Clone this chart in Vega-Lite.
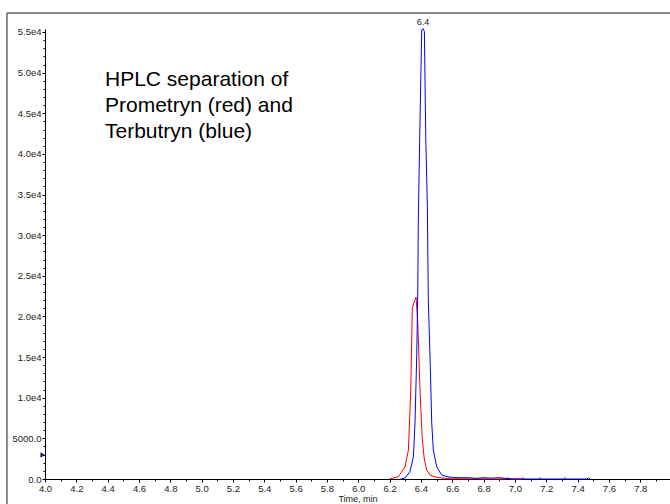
{
  "$schema": "https://vega.github.io/schema/vega-lite/v6.json",
  "width": 625,
  "height": 450,
  "autosize": {"type": "none"},
  "padding": {"left": 45, "right": 0, "top": 29, "bottom": 25},
  "background": "white",
  "config": {
    "view": {"stroke": null},
    "font": "Liberation Sans",
    "axis": {
      "domainColor": "#000000",
      "domainWidth": 1,
      "tickColor": "#000000",
      "tickWidth": 1,
      "labelColor": "#222222",
      "labelFont": "Liberation Sans",
      "labelFontSize": 9.5,
      "labelOverlap": false,
      "labelFlush": false,
      "grid": false,
      "zindex": 1,
      "tickCount": 500
    }
  },
  "datasets": {
    "chrom": [
      {"t": 6.20, "v": 0, "s": "Prometryn"},
      {"t": 6.256, "v": 280, "s": "Prometryn"},
      {"t": 6.298, "v": 1500, "s": "Prometryn"},
      {"t": 6.320, "v": 3570, "s": "Prometryn"},
      {"t": 6.335, "v": 10960, "s": "Prometryn"},
      {"t": 6.345, "v": 21000, "s": "Prometryn"},
      {"t": 6.355, "v": 21700, "s": "Prometryn"},
      {"t": 6.362, "v": 22050, "s": "Prometryn"},
      {"t": 6.369, "v": 22380, "s": "Prometryn"},
      {"t": 6.380, "v": 19170, "s": "Prometryn"},
      {"t": 6.394, "v": 10960, "s": "Prometryn"},
      {"t": 6.409, "v": 4800, "s": "Prometryn"},
      {"t": 6.422, "v": 2340, "s": "Prometryn"},
      {"t": 6.437, "v": 1100, "s": "Prometryn"},
      {"t": 6.458, "v": 490, "s": "Prometryn"},
      {"t": 6.50, "v": 200, "s": "Prometryn"},
      {"t": 6.55, "v": 80, "s": "Prometryn"},
      {"t": 6.60, "v": 30, "s": "Prometryn"},
      {"t": 6.94, "v": 0, "s": "Prometryn"},
      {"t": 6.955, "v": 150, "s": "Prometryn"},
      {"t": 6.97, "v": 0, "s": "Prometryn"},
      {"t": 7.04, "v": 0, "s": "Prometryn"},
      {"t": 7.05, "v": 150, "s": "Prometryn"},
      {"t": 7.06, "v": 0, "s": "Prometryn"},
      {"t": 6.27, "v": 0, "s": "Terbutryn"},
      {"t": 6.298, "v": 120, "s": "Terbutryn"},
      {"t": 6.330, "v": 900, "s": "Terbutryn"},
      {"t": 6.352, "v": 2750, "s": "Terbutryn"},
      {"t": 6.362, "v": 6900, "s": "Terbutryn"},
      {"t": 6.373, "v": 15060, "s": "Terbutryn"},
      {"t": 6.380, "v": 23270, "s": "Terbutryn"},
      {"t": 6.383, "v": 31530, "s": "Terbutryn"},
      {"t": 6.392, "v": 41750, "s": "Terbutryn"},
      {"t": 6.405, "v": 55290, "s": "Terbutryn"},
      {"t": 6.413, "v": 55420, "s": "Terbutryn"},
      {"t": 6.422, "v": 55050, "s": "Terbutryn"},
      {"t": 6.431, "v": 41750, "s": "Terbutryn"},
      {"t": 6.441, "v": 33500, "s": "Terbutryn"},
      {"t": 6.447, "v": 22040, "s": "Terbutryn"},
      {"t": 6.458, "v": 15020, "s": "Terbutryn"},
      {"t": 6.469, "v": 6900, "s": "Terbutryn"},
      {"t": 6.479, "v": 3570, "s": "Terbutryn"},
      {"t": 6.501, "v": 1480, "s": "Terbutryn"},
      {"t": 6.533, "v": 490, "s": "Terbutryn"},
      {"t": 6.56, "v": 300, "s": "Terbutryn"},
      {"t": 6.60, "v": 200, "s": "Terbutryn"},
      {"t": 6.65, "v": 150, "s": "Terbutryn"},
      {"t": 6.70, "v": 160, "s": "Terbutryn"},
      {"t": 6.75, "v": 80, "s": "Terbutryn"},
      {"t": 6.80, "v": 160, "s": "Terbutryn"},
      {"t": 6.85, "v": 100, "s": "Terbutryn"},
      {"t": 6.90, "v": 160, "s": "Terbutryn"},
      {"t": 6.95, "v": 60, "s": "Terbutryn"},
      {"t": 7.00, "v": 0, "s": "Terbutryn"},
      {"t": 7.15, "v": 0, "s": "Terbutryn"},
      {"t": 7.16, "v": 160, "s": "Terbutryn"},
      {"t": 7.17, "v": 0, "s": "Terbutryn"},
      {"t": 7.31, "v": 0, "s": "Terbutryn"},
      {"t": 7.32, "v": 160, "s": "Terbutryn"},
      {"t": 7.33, "v": 0, "s": "Terbutryn"},
      {"t": 7.46, "v": 0, "s": "Terbutryn"},
      {"t": 7.47, "v": 160, "s": "Terbutryn"},
      {"t": 7.48, "v": 0, "s": "Terbutryn"}
    ]
  },
  "layer": [
    {
      "data": {"values": [
        {"t": 3.757, "v": -3500, "t2": 3.757, "v2": 57340},
        {"t": 3.757, "v": 57340, "t2": 8.05, "v2": 57340}
      ]},
      "mark": {"type": "rule", "color": "#666666", "strokeWidth": 1.5, "clip": false},
      "encoding": {
        "x": {"field": "t", "type": "quantitative"},
        "x2": {"field": "t2"},
        "y": {"field": "v", "type": "quantitative"},
        "y2": {"field": "v2"}
      }
    },
    {
      "data": {"name": "chrom"},
      "mark": {"type": "line", "strokeWidth": 1, "clip": false},
      "encoding": {
        "x": {
          "field": "t", "type": "quantitative",
          "scale": {"domain": [4.0, 7.99], "nice": false, "zero": false},
          "axis": {
            "title": "Time, min",
            "titleFontSize": 9,
            "titleFontWeight": "normal",
            "titleColor": "#222222",
            "titlePadding": 2,
            "tickCount": 500,
            "values": [4.0,4.1,4.2,4.3,4.4,4.5,4.6,4.7,4.8,4.9,5.0,5.1,5.2,5.3,5.4,5.5,5.6,5.7,5.8,5.9,6.0,6.1,6.2,6.3,6.4,6.5,6.6,6.7,6.8,6.9,7.0,7.1,7.2,7.3,7.4,7.5,7.6,7.7,7.8,7.9],
            "labelExpr": "round(datum.value*10) % 2 === 0 ? format(datum.value, '.1f') : ''",
            "tickSize": {"condition": {"test": "round(datum.value*10) % 2 === 0", "value": 3}, "value": 2},
            "labelPadding": 1
          }
        },
        "y": {
          "field": "v", "type": "quantitative",
          "scale": {"domain": [0, 55369], "nice": false},
          "axis": {
            "title": null,
            "tickCount": 500,
            "values": [0,1000,2000,3000,4000,5000,6000,7000,8000,9000,10000,11000,12000,13000,14000,15000,16000,17000,18000,19000,20000,21000,22000,23000,24000,25000,26000,27000,28000,29000,30000,31000,32000,33000,34000,35000,36000,37000,38000,39000,40000,41000,42000,43000,44000,45000,46000,47000,48000,49000,50000,51000,52000,53000,54000,55000],
            "labelExpr": "datum.value % 5000 !== 0 ? '' : datum.value === 0 ? '0.0' : datum.value < 10000 ? '5000.0' : format(datum.value/10000, '.1f') + 'e4'",
            "tickSize": {"condition": {"test": "datum.value % 5000 === 0", "value": 3}, "value": 2},
            "labelPadding": 1
          }
        },
        "color": {
          "field": "s", "type": "nominal",
          "scale": {"domain": ["Prometryn", "Terbutryn"], "range": ["#ff0000", "#0000ff"]},
          "legend": null
        },
        "detail": {"field": "s"}
      }
    },
    {
      "data": {"values": [{"t": 6.413, "v": 55420, "label": "6.4"}]},
      "mark": {"type": "text", "fontSize": 9, "color": "#222222", "align": "center", "baseline": "alphabetic", "dy": -4},
      "encoding": {
        "x": {"field": "t", "type": "quantitative"},
        "y": {"field": "v", "type": "quantitative"},
        "text": {"field": "label"}
      }
    },
    {
      "data": {"values": [{"t": 4.383, "v": 48355, "label": "HPLC separation of\nPrometryn (red) and\nTerbutryn (blue)"}]},
      "mark": {"type": "text", "fontSize": 21, "color": "#000000", "align": "left", "baseline": "alphabetic", "lineBreak": "\n", "lineHeight": 26, "font": "Liberation Sans"},
      "encoding": {
        "x": {"field": "t", "type": "quantitative"},
        "y": {"field": "v", "type": "quantitative"},
        "text": {"field": "label"}
      }
    },
    {
      "data": {"values": [{"t": 3.986, "v": 2950}]},
      "mark": {"type": "point", "shape": "triangle-right", "filled": true, "color": "#1c1c70", "size": 30, "opacity": 1, "clip": false},
      "encoding": {
        "x": {"field": "t", "type": "quantitative"},
        "y": {"field": "v", "type": "quantitative"}
      }
    }
  ]
}
